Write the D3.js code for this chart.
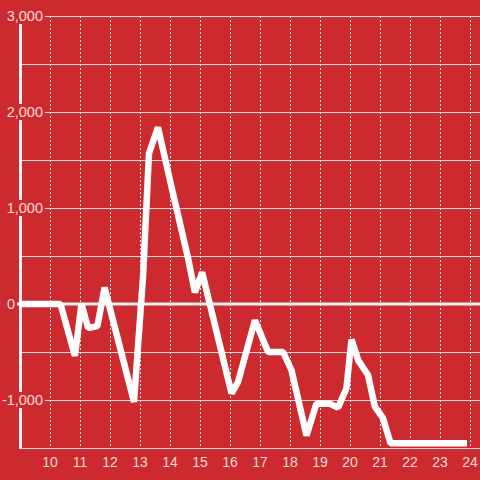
<!DOCTYPE html>
<html>
<head>
<meta charset="utf-8">
<script src="https://cdn.jsdelivr.net/npm/d3@7"></script>
<style>
html,body{margin:0;padding:0;background:#cd2a2f;}
svg{display:block;}
text{font-family:"Liberation Sans",Arial,sans-serif;}
</style>
</head>
<body>
<script>
// Data: hours of day vs value
const hours = [9.0, 10.35, 10.83, 11.05, 11.27, 11.58, 11.82, 12.8, 13.1, 13.3, 13.6, 14.05, 14.4, 14.6, 14.83, 15.07,
  16.05, 16.27, 16.83, 17.27, 17.77, 18.05, 18.55, 18.88, 19.33, 19.6, 19.88, 20.05, 20.28, 20.6, 20.83, 21.1, 21.35, 23.9];
const values = [0, 0, -540, 0, -250, -230, 170, -1020, 280, 1570, 1840, 1220, 750, 480, 120, 330,
  -930, -810, -170, -500, -500, -690, -1370, -1040, -1040, -1080, -880, -370, -590, -740, -1070, -1190, -1450, -1450];
const xTicks = [10, 11, 12, 13, 14, 15, 16, 17, 18, 19, 20, 21, 22, 23, 24];
const yTicks = [3000, 2000, 1000, 0, -1000];
const yGrid = [3000, 2500, 2000, 1500, 1000, 500, -500, -1000, -1500];

const W = 480, H = 480;
const bg = "#cd2a2f";
const svg = d3.select("body").append("svg").attr("width", W).attr("height", H);
svg.append("rect").attr("width", W).attr("height", H).attr("fill", bg);

const x = d3.scaleLinear().domain([9, 24.3333]).range([20, 480]);
const y = d3.scaleLinear().domain([-1500, 3000]).range([448, 16]);

// horizontal grid
svg.append("g").selectAll("line").data(yGrid).join("line")
  .attr("x1", 21).attr("x2", W)
  .attr("y1", d => y(d) + 0.5).attr("y2", d => y(d) + 0.5)
  .attr("stroke", "#d9d9d9").attr("stroke-width", 1);

// vertical dashed grid
svg.append("g").selectAll("line").data(xTicks).join("line")
  .attr("x1", d => Math.round(x(d)) + 0.5).attr("x2", d => Math.round(x(d)) + 0.5)
  .attr("y1", y(3000)).attr("y2", y(-1500))
  .attr("stroke", "#e8e8e8").attr("stroke-width", 1).attr("stroke-dasharray", "2,2");

// y axis line
svg.append("line").attr("x1", 20.5).attr("x2", 20.5)
  .attr("y1", y(3000)).attr("y2", y(-1500) + 1)
  .attr("stroke", "#f2f2f2").attr("stroke-width", 3);

// zero line
svg.append("line").attr("x1", 17).attr("x2", W)
  .attr("y1", y(0)).attr("y2", y(0))
  .attr("stroke", "#f2f2f2").attr("stroke-width", 3);

// y labels with background boxes
const yl = svg.append("g");
yTicks.forEach(t => {
  const isZero = t === 0;
  const tx = isZero ? 15 : 43;
  if (!isZero) {
    yl.append("rect").attr("x", 0).attr("y", y(t) - 8).attr("width", 45).attr("height", 16).attr("fill", bg);
  }
  yl.append("text").attr("x", tx).attr("y", y(t)).attr("dy", "0.35em")
    .attr("text-anchor", "end").attr("font-size", 14.5).attr("fill", "#f3dcdc")
    .text(d3.format(",")(t).replace("−", "-"));
});

// x labels
svg.append("g").selectAll("text").data(xTicks).join("text")
  .attr("x", d => x(d)).attr("y", 467)
  .attr("text-anchor", "middle").attr("font-size", 14).attr("fill", "#f3dcdc")
  .text(d => d);

// data line
const pts = hours.map((h, i) => [h, values[i]]);
svg.append("path").datum(pts)
  .attr("d", d3.line().x(d => x(d[0])).y(d => y(d[1])))
  .attr("fill", "none").attr("stroke", "#ffffff").attr("stroke-width", 6.5)
  .attr("stroke-linejoin", "bevel");
</script>
</body>
</html>
